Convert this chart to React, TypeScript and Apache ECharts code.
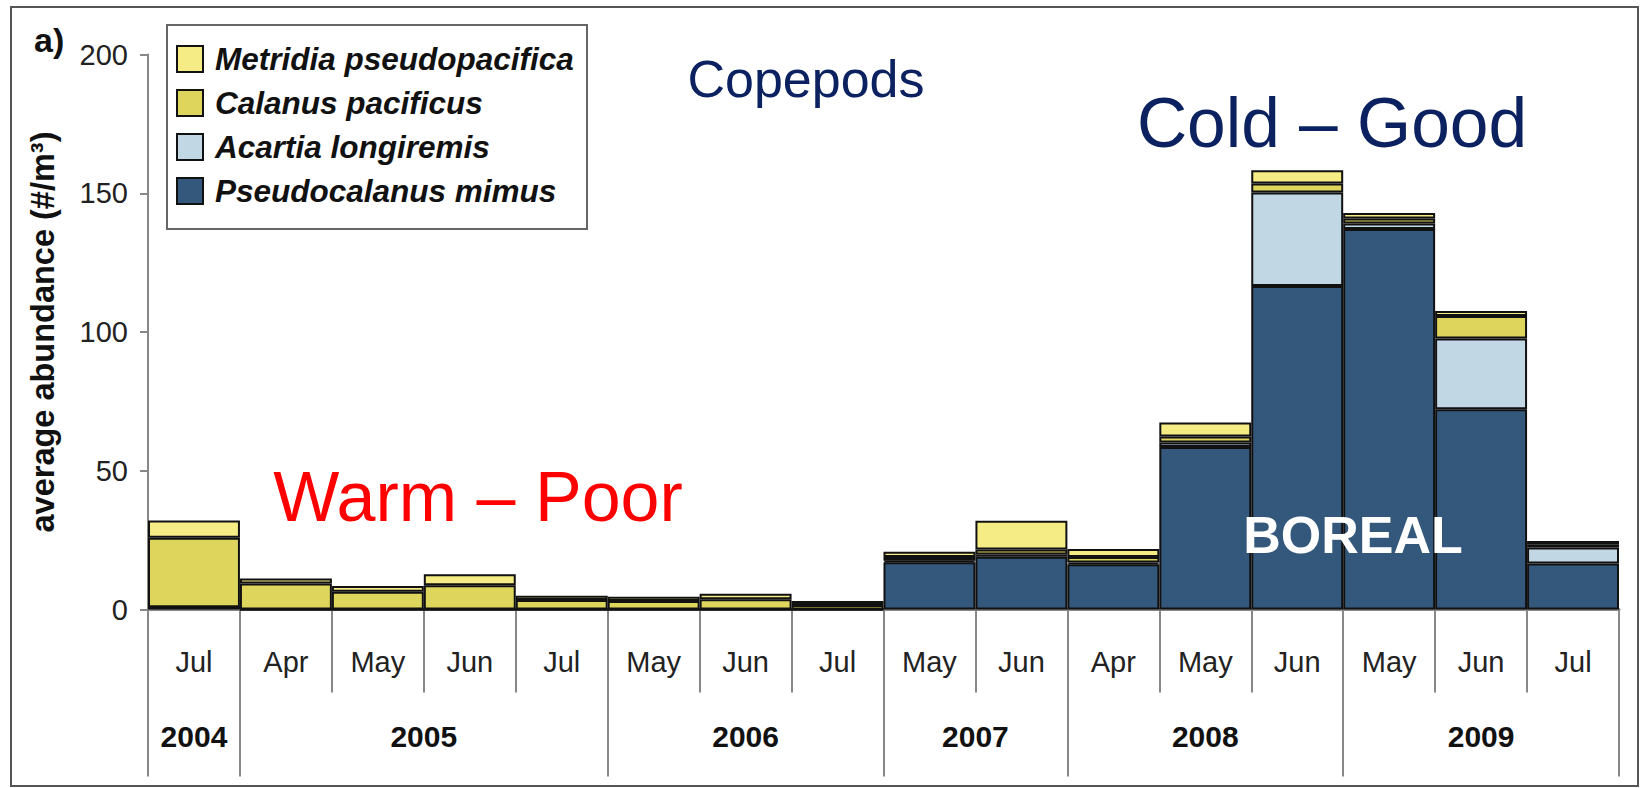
import React, { useEffect, useRef } from "react";
import * as echarts from "echarts";

const months = ["Jul", "Apr", "May", "Jun", "Jul", "May", "Jun", "Jul", "May", "Jun", "Apr", "May", "Jun", "May", "Jun", "Jul"];
const years = ["2004", "2005", "2006", "2007", "2008", "2009"];
const yearCounts = [1, 4, 3, 2, 3, 3];

const pseudocalanus = [0.8, 0, 0, 0, 0, 0, 0, 0, 17.0, 19.0, 16.3, 58.6, 116.6, 137.1, 72.2, 16.6];
const acartia = [0, 0, 0, 0, 0, 0, 0, 0, 0.6, 0.8, 0.6, 1.6, 33.7, 2.0, 25.5, 5.7];
const calanus = [25.1, 9.4, 6.4, 8.7, 3.4, 3.1, 3.7, 1.6, 1.3, 1.8, 2.0, 2.1, 3.2, 1.8, 8.1, 1.2];
const metridia = [6.2, 1.8, 2.1, 4.0, 1.6, 1.5, 2.0, 1.5, 1.9, 10.4, 2.9, 5.1, 4.8, 2.0, 1.8, 1.2];

const yTicks = [0, 50, 100, 150, 200];

const FONT = "'Liberation Sans', Arial, Helvetica, sans-serif";

export default function App() {
  const ref = useRef<HTMLDivElement>(null);

  useEffect(() => {
    if (!ref.current) return;
    const chart = echarts.init(ref.current, null, { renderer: "svg" });

    const bounds: number[] = [0];
    const centers: number[] = [];
    yearCounts.forEach((c) => {
      const start = bounds[bounds.length - 1];
      centers.push(start + c / 2);
      bounds.push(start + c);
    });

    const border = { borderColor: "#111", borderWidth: 2 };
    const mk = (name: string, data: number[], color: string) => ({
      name,
      type: "bar",
      stack: "total",
      data,
      barWidth: "100%",
      barCategoryGap: "0%",
      itemStyle: { color, ...border },
      emphasis: { disabled: true },
    });

    chart.setOption({
      animation: false,
      backgroundColor: "#ffffff",
      textStyle: { fontFamily: FONT },
      grid: { left: 148, right: 22, top: 54.5, bottom: 178.5, containLabel: false },
      legend: {
        orient: "vertical",
        left: 176,
        top: 43,
        padding: 0,
        itemWidth: 26,
        itemHeight: 26,
        itemGap: 12,
        icon: "rect",
        selectedMode: false,
        data: ["Metridia pseudopacifica", "Calanus pacificus", "Acartia longiremis", "Pseudocalanus mimus"],
        itemStyle: { borderColor: "#111", borderWidth: 2 },
        textStyle: {
          fontFamily: FONT,
          fontSize: 31.5,
          fontWeight: "bold",
          fontStyle: "italic",
          color: "#111",
          lineHeight: 26,
          padding: [0, 0, 0, 7],
        },
      },
      xAxis: [
        {
          type: "category",
          data: months,
          position: "bottom",
          axisLine: { show: true, lineStyle: { color: "#888", width: 3 } },
          axisTick: { show: true, interval: 0, alignWithLabel: false, length: 83, lineStyle: { color: "#888", width: 2 } },
          axisLabel: { interval: 0, margin: 38, fontSize: 29, color: "#222", fontFamily: FONT },
          splitLine: { show: false },
        },
        {
          type: "value",
          min: 0,
          max: months.length,
          position: "bottom",
          axisLine: { show: false },
          splitLine: { show: false },
          axisTick: { show: true, customValues: bounds, length: 167, lineStyle: { color: "#888", width: 2 } },
          axisLabel: {
            show: true,
            customValues: centers,
            margin: 112,
            fontSize: 30,
            fontWeight: "bold",
            color: "#111",
            fontFamily: FONT,
            formatter: (v: number) => {
              const i = centers.findIndex((c) => Math.abs(c - v) < 1e-6);
              return i >= 0 ? years[i] : "";
            },
          },
        },
      ],
      yAxis: {
        type: "value",
        min: yTicks[0],
        max: yTicks[yTicks.length - 1],
        interval: 50,
        name: "average abundance (#/m³)",
        nameLocation: "middle",
        nameGap: 89,
        nameTextStyle: { fontSize: 32.5, fontWeight: "bold", color: "#111", fontFamily: FONT },
        axisLine: { show: true, lineStyle: { color: "#888", width: 2 } },
        axisTick: { show: true, length: 8, lineStyle: { color: "#888", width: 2 } },
        axisLabel: { margin: 20, fontSize: 29, color: "#222", fontFamily: FONT },
        splitLine: { show: false },
      },
      series: [
        mk("Pseudocalanus mimus", pseudocalanus, "#34587b"),
        mk("Acartia longiremis", acartia, "#c2d7e4"),
        mk("Calanus pacificus", calanus, "#ddd55c"),
        mk("Metridia pseudopacifica", metridia, "#f6ec86"),
      ],
      graphic: [
        {
          type: "rect",
          z: -1,
          shape: { x: 11, y: 7, width: 1627, height: 779 },
          style: { fill: "none", stroke: "#555", lineWidth: 2 },
          silent: true,
        },
        {
          type: "rect",
          z: -1,
          shape: { x: 167, y: 25, width: 420, height: 204 },
          style: { fill: "none", stroke: "#666", lineWidth: 2 },
          silent: true,
        },
        {
          type: "text",
          z: 100,
          style: { x: 34, y: 40, text: "a)", fontSize: 34, fontWeight: "bold", fill: "#111", fontFamily: FONT, textAlign: "left", textVerticalAlign: "middle" },
        },
        {
          type: "text",
          z: 100,
          style: { x: 806, y: 79, text: "Copepods", fontSize: 52, fill: "#0b2160", fontFamily: FONT, textAlign: "center", textVerticalAlign: "middle" },
        },
        {
          type: "text",
          z: 100,
          style: { x: 1332, y: 123, text: "Cold – Good", fontSize: 69.5, fill: "#0b2160", fontFamily: FONT, textAlign: "center", textVerticalAlign: "middle" },
        },
        {
          type: "text",
          z: 100,
          style: { x: 478, y: 497, text: "Warm – Poor", fontSize: 70, fill: "#ff0000", fontFamily: FONT, textAlign: "center", textVerticalAlign: "middle" },
        },
        {
          type: "text",
          z: 100,
          style: { x: 1353, y: 535, text: "BOREAL", fontSize: 52, fontWeight: "bold", fill: "#ffffff", fontFamily: FONT, textAlign: "center", textVerticalAlign: "middle" },
        },
      ],
    });

    return () => chart.dispose();
  }, []);

  return (
    <div
      ref={ref}
      style={{ position: "absolute", left: 0, top: 0, width: 1641, height: 788, background: "#fff" }}
    />
  );
}
